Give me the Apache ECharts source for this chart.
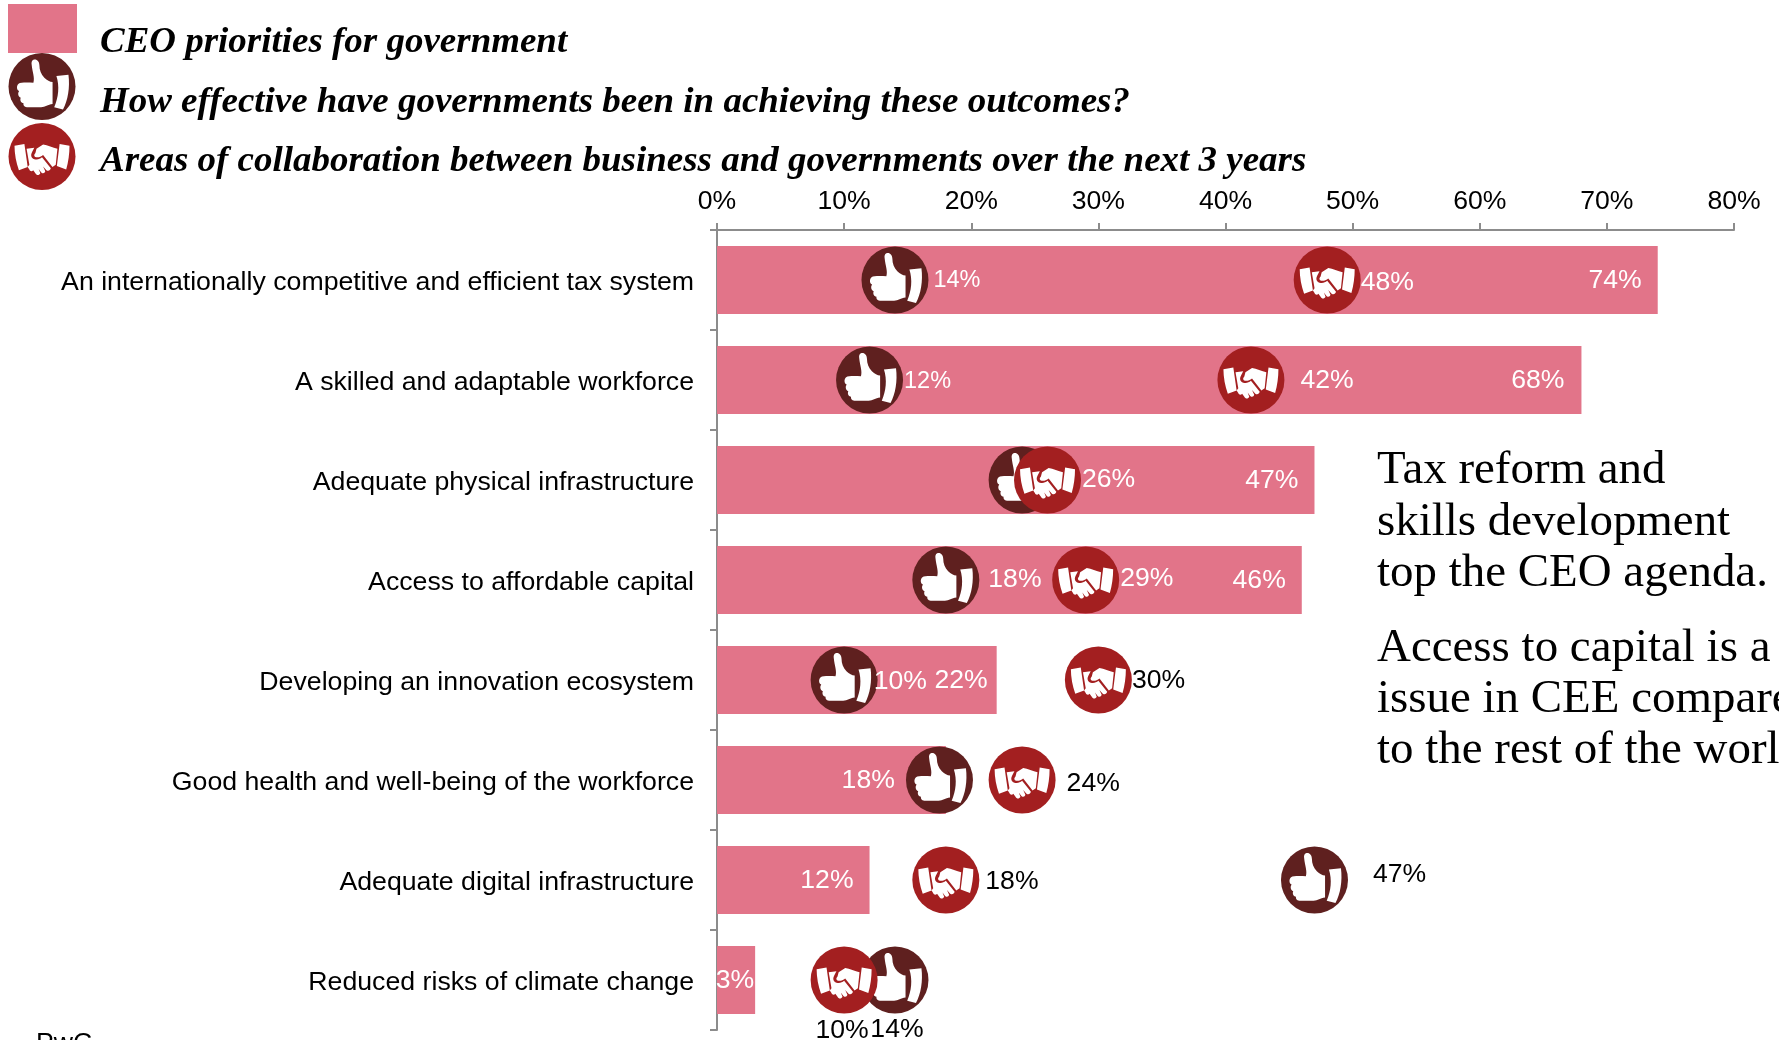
<!DOCTYPE html>
<html>
<head>
<meta charset="utf-8">
<style>html,body{margin:0;padding:0;background:#fff;overflow:hidden}#chart{width:1779px;height:1040px}</style>
<script src="https://cdn.jsdelivr.net/npm/echarts@6/dist/echarts.min.js"></script>
</head>
<body>
<div id="chart"></div>
<script>
// Survey results, in percent of CEOs
const categories = [
  'An internationally competitive and efficient tax system',
  'A skilled and adaptable workforce',
  'Adequate physical infrastructure',
  'Access to affordable capital',
  'Developing an innovation ecosystem',
  'Good health and well-being of the workforce',
  'Adequate digital infrastructure',
  'Reduced risks of climate change'
];
const priorities = [74, 68, 47, 46, 22, 18, 12, 3];
const effectiveness = [14, 12, 24, 18, 10, 17.5, 47, 14];
const collaboration = [48, 42, 26, 29, 30, 24, 18, 10];
const effectivenessLabelled = [true, true, false, true, true, false, true, true];
const axisTicks = [0, 10, 20, 30, 40, 50, 60, 70, 80];
const legendLabels = [
  'CEO priorities for government',
  'How effective have governments been in achieving these outcomes?',
  'Areas of collaboration between business and governments over the next 3 years'
];
const noteOne = ['Tax reform and', 'skills development', 'top the CEO agenda.'];
const noteTwo = ['Access to capital is a big', 'issue in CEE compared', 'to the rest of the world.'];

// Glyph outlines: a raised thumb with its cuff, and two clasped hands between cuffs
const THUMB_PATH = 'M36 5C42 3 47 8 47 15C47 24 50 31 56 37C61 42 66 44 71 45L71 84C62 85 58 89 50 90L24 90C19 90 17 86 18 83C13 82 11 77 13 73C8 71 7 65 10 61C5 59 5 51 9 48C13 45 26 46 36 46C39 38 34 26 33 15C32 10 33 6 36 5ZM78 34L100 32C103 55 99 78 90 94L74 90C82 72 84 52 78 34Z';
const SHAKE_PATH = 'M0 5L18 2L24 40L8 45C3 33 0 18 0 5Z'
  + 'M82 2L100 5C100 18 98 32 94 44L77 38Z'
  + 'M40 10L52 3C60 4 70 8 78 10L75 36L69 40L52 20C47 24 41 25 37 23C35 21 36 19 38 17Z'
  + 'M22 10L36 8L32 15C29 20 30 25 36 27C42 28 46 27 50 24L66 42C65 46 61 47 58 45L52 39L56 47C55 51 50 51 48 48L44 43L47 50C45 54 40 54 38 50L34 45C32 48 28 47 27 44L24 40L27 36Z';

const C_BAR = '#e27489', C_THUMB = '#5f201f', C_SHAKE = '#a31f20';
const SANS = '"Liberation Sans", Arial, sans-serif';
const SERIF = '"Liberation Serif", Georgia, serif';
const FONT_SIZE = 26.6, FONT_SIZE_SMALL = 23.5;
const DISC = 67, GLYPH_THUMB = [52, 50], GLYPH_SHAKE = [55, 31];
const OFFSET_THUMB = [1, -2], OFFSET_SHAKE = [0, 3];

// Per-row label placement around each disc: [position, dx, dy, colour, size]
const thumbLabelPlace = [
  ['right', 0, 1, '#fff', FONT_SIZE_SMALL], ['right', -4, 2, '#fff', FONT_SIZE_SMALL], null, ['right', 4, 0, '#fff'],
  ['right', -9, 2, '#fff'], null, ['right', 20, -5, '#000'], ['bottom', 2, -2, '#000']
];
const shakeLabelPlace = [
  ['right', -5, 3, '#fff'], ['right', 11, 1, '#fff'], ['right', -4, 0, '#fff'], ['right', -4, -1, '#fff'],
  ['right', -5, 1, '#000'], ['right', 6, 4, '#000'], ['right', 1, 2, '#000'], ['bottom', -2, -1, '#000']
];
// Gap between each bar's end and its value label
const barLabelGap = [16, 17, 16, 16, 9, 51, 16, 1];

function pointData(values, places, shown) {
  return values.map((v, i) => {
    const p = places[i];
    const on = shown[i] && !!p;
    return {
      value: [v, categories[i]],
      label: on
        ? { show: true, position: p[0], offset: [p[1], p[2]], color: p[3], fontSize: p[4] || FONT_SIZE }
        : { show: false }
    };
  });
}

function markerSeries(name, values, places, shown, colour, glyph, glyphSize, glyphOffset) {
  const lbl = { fontFamily: SANS, fontSize: FONT_SIZE, formatter: o => o.value[0] + '%' };
  return [
    { name, type: 'scatter', symbol: 'circle', symbolSize: DISC, itemStyle: { color: colour, opacity: 1 },
      data: pointData(values, places, shown), label: lbl, silent: true },
    { name: name + ' glyph', type: 'scatter', symbol: 'path://' + glyph, symbolSize: glyphSize, symbolOffset: glyphOffset,
      itemStyle: { color: '#fff', opacity: 1 }, data: values.map((v, i) => [v, categories[i]]), silent: true }
  ];
}

// Key glyphs at the top left, placed in pixels as a small coordinate-free series
function legendKey(cy, colour, glyph, size, off) {
  return {
    type: 'custom', coordinateSystem: 'none', silent: true, data: [0],
    renderItem: () => ({
      type: 'group',
      children: [
        { type: 'circle', shape: { cx: 42, cy, r: DISC / 2 }, style: { fill: colour } },
        { type: 'path',
          shape: { pathData: glyph, layout: 'cover', x: 42 + off[0] - size[0] / 2, y: cy + off[1] - size[1] / 2, width: size[0], height: size[1] },
          style: { fill: '#fff' } }
      ]
    })
  };
}

const noteText = (lines, x, y0, step) => lines.map((t, i) => ({
  type: 'text', x, y: y0 + i * step, scaleX: 1.02,
  style: { text: t, font: '46px ' + SERIF, fill: '#000', textVerticalAlign: 'middle' }
}));

const chart = echarts.init(document.getElementById('chart'), null, { renderer: 'canvas' });
chart.setOption({
  animation: false,
  backgroundColor: '#fff',
  grid: { left: 717, right: 1779 - 1734, top: 230, height: 800 },
  xAxis: {
    type: 'value', position: 'top', min: 0, max: 80, interval: 10,
    axisLine: { show: true, lineStyle: { color: '#8c8c8c', width: 2 } },
    axisTick: { show: true, length: 7, lineStyle: { color: '#8c8c8c', width: 2 } },
    splitLine: { show: false },
    axisLabel: { fontFamily: SANS, fontSize: FONT_SIZE, color: '#000', margin: 15,
      formatter: v => axisTicks.includes(v) ? v + '%' : '' }
  },
  yAxis: {
    type: 'category', inverse: true, data: categories,
    axisLine: { show: true, lineStyle: { color: '#8c8c8c', width: 2 } },
    axisTick: { show: true, length: 7, lineStyle: { color: '#8c8c8c', width: 2 } },
    axisLabel: {
      margin: 23, color: '#000',
      formatter: v => '{name|' + v + '}',
      rich: { name: { fontFamily: SANS, fontSize: 26.7, color: '#000', padding: [5, 0, 0, 0] } }
    }
  },
  series: [
    { name: legendLabels[0], type: 'bar', barWidth: 68, silent: true,
      data: priorities.map((v, i) => ({ value: v, label: { distance: barLabelGap[i] } })),
      itemStyle: { color: C_BAR },
      label: { show: true, position: 'insideRight', color: '#fff', fontFamily: SANS, fontSize: FONT_SIZE, offset: [0, 1], formatter: '{c}%' } },
    ...markerSeries(legendLabels[1], effectiveness, thumbLabelPlace, effectivenessLabelled, C_THUMB, THUMB_PATH, GLYPH_THUMB, OFFSET_THUMB),
    ...markerSeries(legendLabels[2], collaboration, shakeLabelPlace, collaboration.map(() => true), C_SHAKE, SHAKE_PATH, GLYPH_SHAKE, OFFSET_SHAKE),
    legendKey(86.5, C_THUMB, THUMB_PATH, GLYPH_THUMB, OFFSET_THUMB),
    legendKey(156.5, C_SHAKE, SHAKE_PATH, GLYPH_SHAKE, OFFSET_SHAKE)
  ],
  graphic: [
    { type: 'rect', shape: { x: 8, y: 4, width: 69, height: 49 }, style: { fill: C_BAR } },
    ...legendLabels.map((t, i) => ({
      type: 'text', x: 100, y: [43, 103, 162][i], scaleX: 1.056,
      style: { text: t, font: 'italic bold 35px ' + SERIF, fill: '#000', textVerticalAlign: 'middle' }
    })),
    ...noteText(noteOne, 1377, 471, 51.5),
    ...noteText(noteTwo, 1377, 649, 51),
    { type: 'text', x: 36, y: 1030, style: { text: 'PwC', font: FONT_SIZE + 'px ' + SANS, fill: '#000' } }
  ]
});
</script>
</body>
</html>
